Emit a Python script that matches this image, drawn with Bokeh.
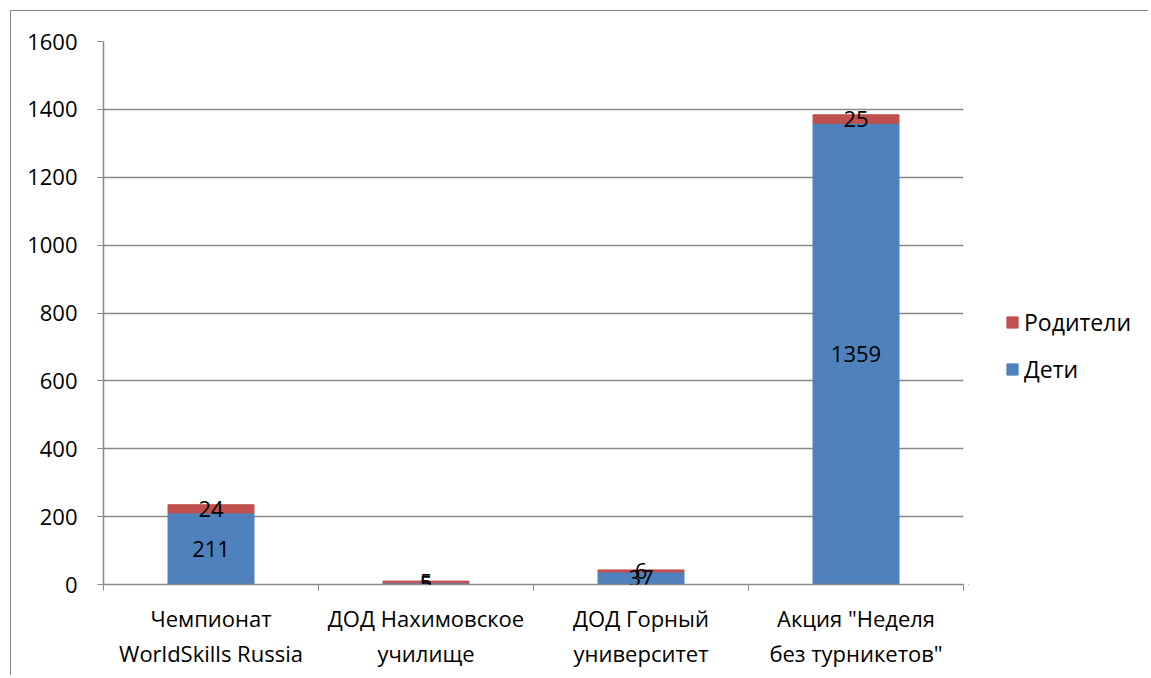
from bokeh.plotting import figure
from bokeh.layouts import row
from bokeh.models import (ColumnDataSource, FixedTicker, LabelSet, Legend, LegendItem,
                          Range1d)
from bokeh.core.properties import value
from bokeh.embed import file_html
from bokeh.resources import INLINE

categories = ["Чемпионат\nWorldSkills Russia", "ДОД Нахимовское\nучилище",
              "ДОД Горный\nуниверситет", "Акция \"Неделя\nбез турникетов\""]
deti = [211, 5, 37, 1359]
roditeli = [24, 5, 6, 25]
y_ticks = [0, 200, 400, 600, 800, 1000, 1200, 1400, 1600]

FONT = "Open Sans"
GRAY = "#898989"
BLUE = "#4F81BD"
RED = "#C0504D"

xs = [i + 0.5 for i in range(len(categories))]
top1 = deti
top2 = [d + r for d, r in zip(deti, roditeli)]
mid1 = [d / 2 for d in deti]
mid2 = [d + r / 2 for d, r in zip(deti, roditeli)]

src = ColumnDataSource(dict(x=xs, deti=deti, roditeli=roditeli, top1=top1, top2=top2,
                            mid1=mid1, mid2=mid2,
                            l1=[str(v) for v in deti], l2=[str(v) for v in roditeli]))

W1, H = 957, 664
p = figure(width=W1, height=H, output_backend="svg", toolbar_location=None,
           x_range=Range1d(0, len(categories)), y_range=Range1d(0, 1600),
           min_border_left=92, min_border_top=30, min_border_right=5, min_border_bottom=91)
p.outline_line_color = None
p.background_fill_color = "white"

r1 = p.vbar(x="x", bottom=0, top="top1", width=0.4, source=src, color=BLUE)
r2 = p.vbar(x="x", bottom="top1", top="top2", width=0.4, source=src, color=RED)

# axes
p.xaxis.ticker = FixedTicker(ticks=xs, minor_ticks=list(range(len(categories) + 1)))
p.xaxis.major_label_overrides = {x: c for x, c in zip(xs, categories)}
p.xaxis.major_tick_out = 0
p.xaxis.major_tick_in = 0
p.xaxis.minor_tick_out = 6
p.xaxis.minor_tick_in = 0
p.xaxis.minor_tick_line_color = GRAY
p.xaxis.axis_line_color = GRAY
p.xaxis.axis_line_width = 1.5
p.xaxis.major_label_text_font = FONT
p.xaxis.major_label_text_font_size = "22px"
p.xaxis.major_label_text_color = "black"
p.xaxis.major_label_text_line_height = 1.17
p.xaxis.major_label_standoff = 12

p.yaxis.ticker = FixedTicker(ticks=y_ticks, minor_ticks=[])
p.yaxis.major_tick_out = 6
p.yaxis.major_tick_in = 0
p.yaxis.major_tick_line_color = GRAY
p.yaxis.axis_line_color = GRAY
p.yaxis.axis_line_width = 1.5
p.yaxis.major_label_text_font = FONT
p.yaxis.major_label_text_font_size = "22px"
p.yaxis.major_label_text_color = "black"
p.yaxis.major_label_standoff = 20

p.xgrid.visible = False
p.ygrid.ticker = FixedTicker(ticks=y_ticks)
p.ygrid.grid_line_color = GRAY
p.ygrid.grid_line_width = 1.5

for col_y, col_t in (("mid1", "l1"), ("mid2", "l2")):
    p.add_layout(LabelSet(x="x", y=col_y, text=col_t, source=src, text_align="center",
                          text_baseline="middle", text_font=value(FONT),
                          text_font_size=value("22px"), text_color="black"))

# legend panel (separate blank figure to the right of the plot area)
W2 = 180
p2 = figure(width=W2, height=H, output_backend="svg", toolbar_location=None,
            x_range=Range1d(0, W2), y_range=Range1d(0, H),
            min_border_left=0, min_border_right=0, min_border_top=0, min_border_bottom=0)
p2.axis.visible = False
p2.grid.visible = False
p2.outline_line_color = None
# legend-only renderers, kept outside the visible range
lr2 = p2.vbar(x=[-1000], top=[-1000], bottom=[-1001], width=1, color=RED)
lr1 = p2.vbar(x=[-1000], top=[-1000], bottom=[-1001], width=1, color=BLUE)

legend = Legend(items=[LegendItem(label="Родители", renderers=[lr2]),
                       LegendItem(label="Дети", renderers=[lr1])],
                location=(37, 199), orientation="vertical")
legend.label_text_font = FONT
legend.label_text_font_size = "23px"
legend.label_text_color = "black"
legend.glyph_width = 14
legend.glyph_height = 14
legend.label_height = 24
legend.spacing = 15
legend.padding = 0
legend.margin = 0
legend.label_standoff = 5
legend.border_line_color = None
legend.background_fill_alpha = 0
p2.add_layout(legend, "center")

layout = row(p, p2)
layout.margin = (10, 0, 0, 10)
layout.styles = {"border-left": "1.5px solid " + GRAY, "border-top": "1.5px solid " + GRAY}

open("out.html", "w").write(file_html(layout, INLINE))
